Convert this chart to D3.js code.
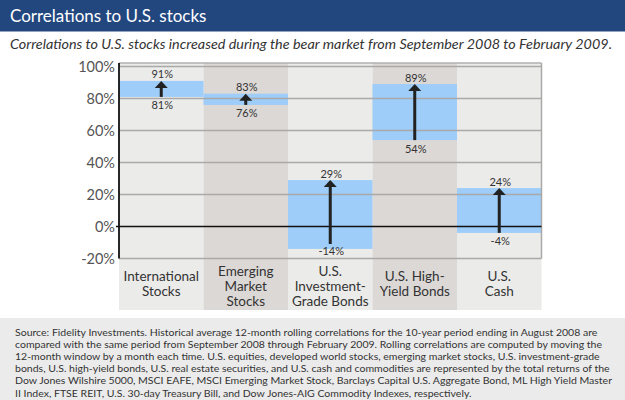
<!DOCTYPE html>
<html>
<head>
<meta charset="utf-8">
<script src="https://cdn.jsdelivr.net/npm/d3@7"></script>
<style>
  html, body { margin: 0; padding: 0; background: #fff; }
  svg { display: block; font-family: Lato, "Open Sans", sans-serif; }
</style>
</head>
<body>
<script>
// ---- data ----
const categories = ["International Stocks", "Emerging Market Stocks", "U.S. Investment-Grade Bonds", "U.S. High-Yield Bonds", "U.S. Cash"];
const categoryLines = [["International", "Stocks"], ["Emerging", "Market", "Stocks"], ["U.S.", "Investment-", "Grade Bonds"], ["U.S. High-", "Yield Bonds"], ["U.S.", "Cash"]];
const historical = [81, 76, -14, 54, -4];   // 10-yr avg ending Aug 2008
const bearMarket = [91, 83, 29, 89, 24];    // Sep 2008 - Feb 2009
const yTicks = [-20, 0, 20, 40, 60, 80, 100];
const title = "Correlations to U.S. stocks";
const subtitle = "Correlations to U.S. stocks increased during the bear market from September 2008 to February 2009.";
const footnote = [
  "Source: Fidelity Investments. Historical average 12-month rolling correlations for the 10-year period ending in August 2008 are",
  "compared with the same period from September 2008 through February 2009. Rolling correlations are computed by moving the",
  "12-month window by a month each time. U.S. equities, developed world stocks, emerging market stocks, U.S. investment-grade",
  "bonds, U.S. high-yield bonds, U.S. real estate securities, and U.S. cash and commodities are represented by the total returns of the",
  "Dow Jones Wilshire 5000, MSCI EAFE, MSCI Emerging Market Stock, Barclays Capital U.S. Aggregate Bond, ML High Yield Master",
  "II Index, FTSE REIT, U.S. 30-day Treasury Bill, and Dow Jones-AIG Commodity Indexes, respectively."
];

// ---- layout ----
const W = 625, H = 400;
const plotL = 119, plotR = 541.5, plotT = 63, plotB = 258.5, colB = 310;
const svg = d3.select("body").append("svg").attr("width", W).attr("height", H);

const x = d3.scaleBand().domain(categories).range([plotL, plotR]).padding(0);
const y = d3.scaleLinear().domain([-20, 100]).range([plotB, 66.5]);

// header
svg.append("rect").attr("x", 0).attr("y", 0).attr("width", W).attr("height", 31.5).attr("fill", "#22477f");
svg.append("text").attr("x", 10).attr("y", 21.5).attr("fill", "#fff")
  .attr("font-size", 17).text(title);
svg.append("text").attr("x", 10).attr("y", 48.5).attr("fill", "#333")
  .attr("font-size", 14).attr("font-style", "italic")
  .attr("textLength", 602).attr("lengthAdjust", "spacingAndGlyphs").text(subtitle);

// column backgrounds
svg.append("g").selectAll("rect").data(categories).join("rect")
  .attr("x", d => x(d)).attr("y", plotT)
  .attr("width", x.bandwidth()).attr("height", colB - plotT)
  .attr("fill", (d, i) => i % 2 === 0 ? "#ebebea" : "#dcd8d6");

// bars
svg.append("g").selectAll("rect").data(categories).join("rect")
  .attr("x", d => x(d)).attr("width", x.bandwidth())
  .attr("y", (d, i) => y(bearMarket[i]))
  .attr("height", (d, i) => y(historical[i]) - y(bearMarket[i]))
  .attr("fill", "#9dcdf8");

// gridlines
svg.append("g").selectAll("line").data(yTicks.filter(t => t !== 0)).join("line")
  .attr("x1", plotL).attr("x2", plotR)
  .attr("y1", d => y(d)).attr("y2", d => y(d))
  .attr("stroke", "#a9a9a9").attr("stroke-width", 1.5);
// frame
svg.append("line").attr("x1", plotL).attr("x2", plotR).attr("y1", plotT).attr("y2", plotT)
  .attr("stroke", "#b0b0b0").attr("stroke-width", 1.5);
svg.append("line").attr("x1", plotR).attr("x2", plotR).attr("y1", plotT).attr("y2", plotB)
  .attr("stroke", "#a9a9a9").attr("stroke-width", 1.5);
// zero line
svg.append("line").attr("x1", plotL - 3).attr("x2", plotR).attr("y1", y(0)).attr("y2", y(0))
  .attr("stroke", "#111").attr("stroke-width", 1.5);
// y axis line
svg.append("line").attr("x1", plotL).attr("x2", plotL).attr("y1", plotT).attr("y2", plotB)
  .attr("stroke", "#111").attr("stroke-width", 1.8);

// y tick labels
svg.append("g").selectAll("text").data(yTicks).join("text")
  .attr("x", 115).attr("y", d => y(d) + 5)
  .attr("text-anchor", "end").attr("font-size", 14.5).attr("fill", "#555")
  .text(d => d + "%");

// arrows
const arrows = svg.append("g");
categories.forEach((c, i) => {
  const cx = x(c) + x.bandwidth() / 2;
  const yTop = y(bearMarket[i]), yBot = Math.min(y(historical[i]), 244);
  const headH = 7, headW = 13;
  arrows.append("line").attr("x1", cx).attr("x2", cx)
    .attr("y1", yBot).attr("y2", yTop + headH - 1)
    .attr("stroke", "#222").attr("stroke-width", 3);
  arrows.append("path")
    .attr("d", `M${cx},${yTop} L${cx + headW / 2},${yTop + headH} L${cx - headW / 2},${yTop + headH} Z`)
    .attr("fill", "#222");
});

// value labels
svg.append("g").selectAll("text").data(categories).join("text")
  .attr("x", d => x(d) + x.bandwidth() / 2 + 1)
  .attr("y", (d, i) => y(bearMarket[i]) - 2.5)
  .attr("text-anchor", "middle").attr("font-size", 11).attr("fill", "#333")
  .text((d, i) => bearMarket[i] + "%");
svg.append("g").selectAll("text").data(categories).join("text")
  .attr("x", d => x(d) + x.bandwidth() / 2 + 1)
  .attr("y", (d, i) => Math.min(y(historical[i]) + 12.5, 254.5))
  .attr("text-anchor", "middle").attr("font-size", 11).attr("fill", "#333")
  .text((d, i) => historical[i] + "%");

// category labels
const catG = svg.append("g");
categories.forEach((c, i) => {
  const lines = categoryLines[i];
  const lh = 15;
  const firstCenter = lines.length === 3 ? 271 : 276.5;
  const t = catG.append("text").attr("text-anchor", "middle")
    .attr("font-size", 13.5).attr("fill", "#333");
  lines.forEach((ln, j) => {
    t.append("tspan").attr("x", x(c) + x.bandwidth() / 2).attr("y", firstCenter + 4.7 + j * lh).text(ln);
  });
});

// footnote
svg.append("rect").attr("x", 0).attr("y", 318).attr("width", W).attr("height", H - 318).attr("fill", "#ebebeb");
const fn = svg.append("g");
const fnTexts = footnote.map((ln, i) =>
  fn.append("text").attr("x", 15).attr("y", 335.5 + i * 12.2)
    .attr("font-size", 10).attr("fill", "#333").text(ln));
// condense uniformly so the longest line ends near the right edge like the reference
const natural = fnTexts.map(t => t.node().getComputedTextLength());
const k = (612 - 15) / d3.max(natural);
fnTexts.forEach((t, i) => t.attr("textLength", natural[i] * k).attr("lengthAdjust", "spacingAndGlyphs"));
</script>
</body>
</html>
